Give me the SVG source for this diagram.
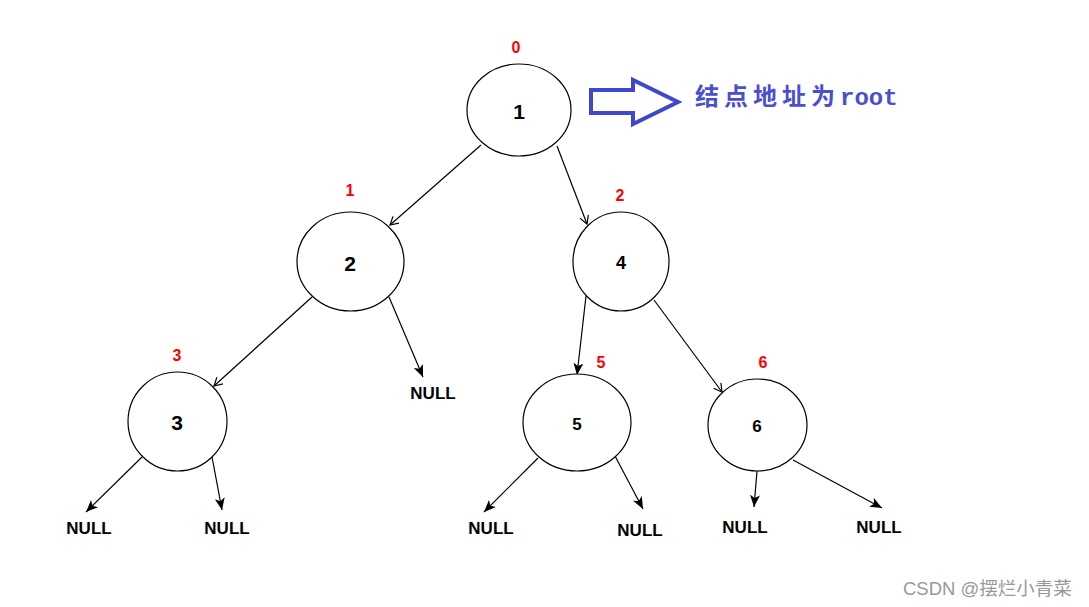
<svg xmlns="http://www.w3.org/2000/svg" width="1089" height="607" viewBox="0 0 1089 607">
<defs>
<style>
.node ellipse{fill:#fff;stroke:#000;stroke-width:1.2}
.val{font-family:"Liberation Sans",Arial,sans-serif;font-weight:bold;fill:#000;text-anchor:middle;dominant-baseline:central}
.idx{font-family:"Liberation Sans",Arial,sans-serif;font-weight:bold;font-size:16px;fill:#ff0000;text-anchor:middle;dominant-baseline:central}
.null{font-family:"Liberation Sans",Arial,sans-serif;font-weight:bold;font-size:17px;fill:#000;text-anchor:middle;dominant-baseline:central}
.edge{stroke:#000;stroke-width:1.2;fill:none}
</style>
<marker id="open" markerUnits="userSpaceOnUse" markerWidth="12" markerHeight="12" refX="9" refY="5" orient="auto" viewBox="0 0 12 10">
<path d="M1,0.5 L9,5 L1,9.5" fill="none" stroke="#000" stroke-width="1.2"/>
</marker>
<marker id="solid" markerUnits="userSpaceOnUse" markerWidth="13" markerHeight="11" refX="12" refY="5" orient="auto" viewBox="0 0 13 10">
<path d="M0,0 L12,5 L0,10 L3,5 Z" fill="#000"/>
</marker>
</defs>
<rect width="1089" height="607" fill="#fff"/>
<g id="connectors">
<line class="edge" x1="481" y1="145" x2="390" y2="225" marker-end="url(#open)"/>
<line class="edge" x1="557" y1="146" x2="587" y2="224" marker-end="url(#open)"/>
<line class="edge" x1="312" y1="297" x2="214" y2="386" stroke-width="1.6" marker-end="url(#open)"/>
<line class="edge" x1="389" y1="297" x2="423" y2="377" marker-end="url(#solid)"/>
<line class="edge" x1="586" y1="296" x2="577" y2="375" marker-end="url(#solid)"/>
<line class="edge" x1="654" y1="300" x2="722" y2="392" marker-end="url(#open)"/>
<line class="edge" x1="142" y1="457" x2="86" y2="512" marker-end="url(#solid)"/>
<line class="edge" x1="212" y1="457" x2="222" y2="510" marker-end="url(#solid)"/>
<line class="edge" x1="538" y1="458" x2="484" y2="512" marker-end="url(#solid)"/>
<line class="edge" x1="615" y1="456" x2="643" y2="509" marker-end="url(#solid)"/>
<line class="edge" x1="757" y1="471" x2="754" y2="507" marker-end="url(#solid)"/>
<line class="edge" x1="793" y1="460" x2="882" y2="508" marker-end="url(#solid)"/>
</g>
<g id="node1" class="node"><ellipse cx="519" cy="110" rx="52" ry="46"/><text class="val" x="519" y="111" font-size="21">1</text><text class="idx" x="516" y="47">0</text></g>
<g id="node2" class="node"><ellipse cx="350.5" cy="261.5" rx="53.5" ry="49.5"/><text class="val" x="350" y="263" font-size="21">2</text><text class="idx" x="350" y="190">1</text></g>
<g id="node4" class="node"><ellipse cx="621" cy="261.5" rx="48" ry="49.5"/><text class="val" x="621" y="263" font-size="18">4</text><text class="idx" x="620" y="195">2</text></g>
<g id="node3" class="node"><ellipse cx="177.5" cy="421.5" rx="49.5" ry="49.5"/><text class="val" x="177" y="422" font-size="21">3</text><text class="idx" x="177" y="355">3</text></g>
<g id="node5" class="node"><ellipse cx="577" cy="422.5" rx="54" ry="48.5"/><text class="val" x="577" y="424" font-size="17">5</text><text class="idx" x="601" y="362">5</text></g>
<g id="node6" class="node"><ellipse cx="757.5" cy="425" rx="49.5" ry="46"/><text class="val" x="757" y="426" font-size="17">6</text><text class="idx" x="763" y="362">6</text></g>
<g id="nulls">
<text class="null" x="433" y="393">NULL</text>
<text class="null" x="89" y="528">NULL</text>
<text class="null" x="227" y="528">NULL</text>
<text class="null" x="491" y="528">NULL</text>
<text class="null" x="640" y="530">NULL</text>
<text class="null" x="745" y="527">NULL</text>
<text class="null" x="879" y="527">NULL</text>
</g>
<g id="root-pointer">
<path d="M591,90 L633,90 L633,80 L678,102 L633,124 L633,113 L591,113 Z" fill="none" stroke="#3f48cc" stroke-width="4" stroke-linejoin="miter"/>
<text x="695" y="105" fill="#4a4fcf" font-weight="bold"><tspan font-family="'Noto Sans CJK SC',sans-serif" font-size="24" letter-spacing="5">结点地址为</tspan><tspan font-family="'Liberation Mono',monospace" font-size="24">root</tspan></text>
</g>
<text x="903" y="595" font-family="'Liberation Sans','Noto Sans CJK SC',sans-serif" font-size="18.5" fill="#999">CSDN @摆烂小青菜</text>
</svg>
